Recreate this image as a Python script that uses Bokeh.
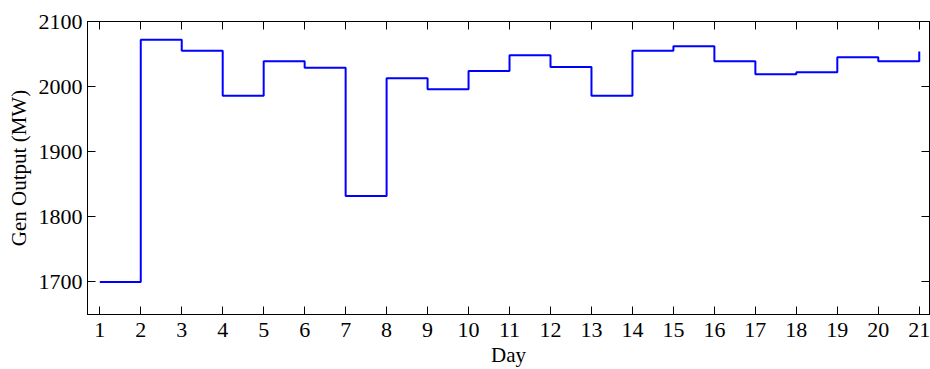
from bokeh.plotting import figure
from bokeh.models import LinearAxis, FixedTicker, Range1d
from bokeh.embed import file_html
from bokeh.resources import INLINE

days = list(range(1, 22))
gen_output = [1700, 2072, 2055, 1986, 2039, 2029, 1832, 2013, 1996, 2024, 2048,
              2030, 1986, 2055, 2062, 2039, 2019, 2022, 2045, 2039, 2054]
y_ticks = [1700, 1800, 1900, 2000, 2100]
x_ticks = days

FONT = "Liberation Serif"

p = figure(width=930, height=369, output_backend="svg", toolbar_location=None,
           x_range=Range1d(0.7, 21.25), y_range=Range1d(1650, 2100),
           min_border_left=87, min_border_right=1, min_border_top=21, min_border_bottom=55,
           x_axis_location=None, y_axis_location=None)
p.xgrid.visible = False
p.ygrid.visible = False
p.outline_line_color = "black"
p.outline_line_width = 1
p.outline_line_alpha = 1

def style_axis(ax, labels=True):
    ax.major_tick_in = 8
    ax.major_tick_out = 0
    ax.minor_tick_in = 0
    ax.minor_tick_out = 0
    ax.axis_line_color = "black"
    ax.major_tick_line_color = "black"
    ax.major_label_text_font = FONT
    ax.major_label_text_color = "black"
    if labels:
        ax.major_label_text_font_size = "22px"
        ax.major_label_standoff = 5
    else:
        ax.major_label_text_font_size = "1px"
        ax.major_label_standoff = 0
        ax.major_label_overrides = {t: "" for t in ax.ticker.ticks}
    ax.axis_label_text_font = FONT
    ax.axis_label_text_font_size = "21px"
    ax.axis_label_text_font_style = "normal"
    ax.axis_label_text_color = "black"

bottom = LinearAxis(ticker=FixedTicker(ticks=x_ticks), axis_label="Day")
style_axis(bottom)
bottom.major_label_standoff = 8
bottom.axis_label_standoff = 3
p.add_layout(bottom, "below")

top = LinearAxis(ticker=FixedTicker(ticks=x_ticks))
style_axis(top, labels=False)
p.add_layout(top, "above")

left = LinearAxis(ticker=FixedTicker(ticks=y_ticks), axis_label="Gen Output (MW)")
style_axis(left)
left.axis_label_standoff = 5
p.add_layout(left, "left")

right = LinearAxis(ticker=FixedTicker(ticks=y_ticks))
style_axis(right, labels=False)
p.add_layout(right, "right")

p.step(days, gen_output, mode="after", line_color="#0000FF", line_width=2)

open("out.html", "w").write(file_html(p, INLINE))
